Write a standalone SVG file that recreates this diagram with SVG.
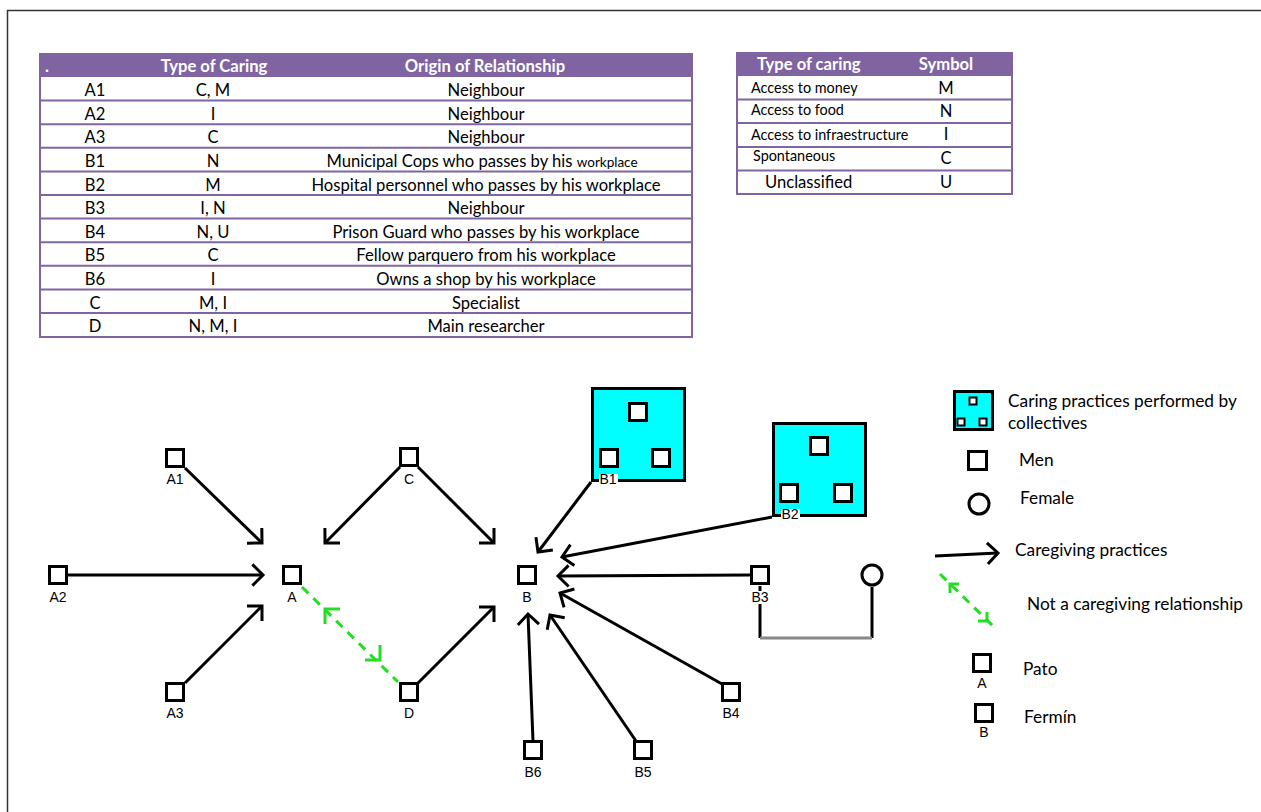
<svg xmlns="http://www.w3.org/2000/svg" width="1261" height="812" viewBox="0 0 1261 812">
<style>
.tb{font-family:Lato,"Open Sans",sans-serif;font-size:16.6px;fill:#000}
.th{font-family:Lato,"Open Sans",sans-serif;font-size:16.6px;font-weight:bold;fill:#fff}
.ts{font-family:Lato,"Open Sans",sans-serif;font-size:14.4px;fill:#000}
.c{text-anchor:middle}
.hd{fill:#8064a2}
.rl{stroke:#8064a2;stroke-width:2;fill:none}
.nd{fill:#fff;stroke:#000;stroke-width:3}
.cy{fill:#00ffff;stroke:#000;stroke-width:3}
.lb{font-family:"Liberation Sans",Arial,sans-serif;font-size:14px;fill:#000;text-anchor:middle}
.lg{font-family:Lato,"Open Sans",sans-serif;font-size:17.3px;fill:#000}
.ar{stroke:#000;stroke-width:3;fill:none;marker-end:url(#chev)}
.gd{stroke:#22dd22;stroke-width:3;fill:none;stroke-dasharray:9 7}
.gh{stroke:#22dd22;stroke-width:3;fill:none}
</style>
<defs>
<marker id="chev" markerUnits="userSpaceOnUse" viewBox="-14 -13 16 26" markerWidth="16" markerHeight="26" refX="0" refY="0" orient="auto" overflow="visible">
<path d="M-10.6,-10.6 L0,0 L-10.6,10.6" fill="none" stroke="#000" stroke-width="3"/>
</marker>
</defs>
<rect width="1261" height="812" fill="#fff"/>
<path d="M7.5,812 V10.5 H1261" fill="none" stroke="#333" stroke-width="1.5"/>

<g id="table1">
<rect x="40" y="53" width="652" height="24" class="hd"/>
<text x="45" y="72" class="th">.</text>
<text x="214" y="72" class="th c">Type of Caring</text>
<text x="485" y="72" class="th c">Origin of Relationship</text>
<path class="rl" d="M40,53 V337 H692 V53 M40,100.6 H692 M40,124.2 H692 M40,147.8 H692 M40,171.4 H692 M40,195 H692 M40,218.6 H692 M40,242.2 H692 M40,265.8 H692 M40,289.4 H692 M40,313 H692"/>
<g class="tb c">
<text x="95" y="96">A1</text><text x="213" y="96">C, M</text><text x="486" y="96">Neighbour</text>
<text x="95" y="120">A2</text><text x="213" y="120">I</text><text x="486" y="120">Neighbour</text>
<text x="95" y="143">A3</text><text x="213" y="143">C</text><text x="486" y="143">Neighbour</text>
<text x="95" y="167">B1</text><text x="213" y="167">N</text><text x="482" y="167">Municipal Cops who passes by his <tspan font-size="13.5">workplace</tspan></text>
<text x="95" y="191">B2</text><text x="213" y="191">M</text><text x="486" y="191">Hospital personnel who passes by his workplace</text>
<text x="95" y="214">B3</text><text x="213" y="214">I, N</text><text x="486" y="214">Neighbour</text>
<text x="95" y="238">B4</text><text x="213" y="238">N, U</text><text x="486" y="238">Prison Guard who passes by his workplace</text>
<text x="95" y="261">B5</text><text x="213" y="261">C</text><text x="486" y="261">Fellow parquero from his workplace</text>
<text x="95" y="285">B6</text><text x="213" y="285">I</text><text x="486" y="285">Owns a shop by his workplace</text>
<text x="95" y="309">C</text><text x="213" y="309">M, I</text><text x="486" y="309">Specialist</text>
<text x="95" y="332">D</text><text x="213" y="332">N, M, I</text><text x="486" y="332">Main researcher</text>
</g>
</g>

<g id="table2">
<rect x="737" y="52" width="275" height="24" class="hd"/>
<text x="757" y="70" class="th">Type of caring</text>
<text x="946" y="70" class="th c">Symbol</text>
<path class="rl" d="M737,52 V194 H1012 V52 M737,99.5 H1012 M737,123 H1012 M737,147 H1012 M737,170.5 H1012"/>
<text x="751" y="93" class="ts">Access to money</text>
<text x="751" y="115" class="ts">Access to food</text>
<text x="751" y="140" class="ts">Access to infraestructure</text>
<text x="753" y="161" class="ts">Spontaneous</text>
<text x="765" y="188" class="tb">Unclassified</text>
<g class="tb c">
<text x="946" y="94">M</text><text x="946" y="117">N</text><text x="946" y="140">I</text><text x="946" y="164">C</text><text x="946" y="188">U</text>
</g>
</g>

<g id="connectors">
<line class="ar" x1="185" y1="468" x2="262" y2="543"/>
<line class="ar" x1="68" y1="575" x2="263" y2="575"/>
<line class="ar" x1="185" y1="683" x2="262" y2="606"/>
<line class="ar" x1="400" y1="467" x2="325" y2="543"/>
<line class="ar" x1="418" y1="467" x2="494" y2="543"/>
<line class="ar" x1="418" y1="683" x2="494" y2="607"/>
<line class="ar" x1="591" y1="482" x2="538" y2="552"/>
<line class="ar" x1="772" y1="517" x2="562" y2="557"/>
<line class="ar" x1="750" y1="575" x2="558" y2="576"/>
<line class="ar" x1="722" y1="684" x2="560" y2="593"/>
<line class="ar" x1="636" y1="741" x2="550" y2="615"/>
<line class="ar" x1="533" y1="741" x2="528" y2="614"/>
<line class="gd" x1="302" y1="587" x2="398" y2="682"/>
<path class="gh" d="M340,609 H325 V624 M365,660 H380 V645"/>
<path d="M760,586 V591 M760,604 V638 M872,587 V638" stroke="#000" stroke-width="3" fill="none"/>
<path d="M760,638 H872" stroke="#888" stroke-width="3" fill="none"/>
</g>

<g id="node-A1"><rect x="166.5" y="449.5" width="17" height="17" class="nd"/><text x="175" y="484" class="lb">A1</text></g>
<g id="node-A2"><rect x="49.5" y="566.5" width="17" height="17" class="nd"/><text x="58" y="602" class="lb">A2</text></g>
<g id="node-A3"><rect x="166.5" y="683.5" width="17" height="17" class="nd"/><text x="175" y="718" class="lb">A3</text></g>
<g id="node-A"><rect x="283.5" y="566.5" width="17" height="17" class="nd"/><text x="292" y="602" class="lb">A</text></g>
<g id="node-C"><rect x="400.5" y="448.5" width="17" height="17" class="nd"/><text x="409" y="484" class="lb">C</text></g>
<g id="node-D"><rect x="400.5" y="683.5" width="17" height="17" class="nd"/><text x="409" y="718" class="lb">D</text></g>
<g id="node-B"><rect x="518.5" y="566.5" width="17" height="17" class="nd"/><text x="527" y="602" class="lb">B</text></g>
<g id="node-B3"><rect x="751.5" y="566.5" width="17" height="17" class="nd"/><text x="760" y="602" class="lb">B3</text></g>
<g id="node-B4"><rect x="722.5" y="683.5" width="17" height="17" class="nd"/><text x="731" y="718" class="lb">B4</text></g>
<g id="node-B5"><rect x="634.5" y="741.5" width="17" height="17" class="nd"/><text x="643" y="777" class="lb">B5</text></g>
<g id="node-B6"><rect x="524.5" y="741.5" width="17" height="17" class="nd"/><text x="533" y="777" class="lb">B6</text></g>
<g id="node-B1">
<rect x="592.5" y="388.5" width="92" height="92" class="cy"/>
<rect x="629.5" y="403.5" width="17" height="17" class="nd"/>
<rect x="600.5" y="449.5" width="17" height="17" class="nd"/>
<rect x="652.5" y="449.5" width="17" height="17" class="nd"/>
<rect x="599" y="474" width="19" height="12" fill="#fff"/>
<text x="608" y="484" class="lb">B1</text>
</g>
<g id="node-B2">
<rect x="773.5" y="423.5" width="92" height="92" class="cy"/>
<rect x="810.5" y="437.5" width="17" height="17" class="nd"/>
<rect x="780.5" y="484.5" width="17" height="17" class="nd"/>
<rect x="834.5" y="484.5" width="17" height="17" class="nd"/>
<rect x="781" y="509" width="19" height="12" fill="#fff"/>
<text x="790" y="519" class="lb">B2</text>
</g>
<g id="node-female"><circle cx="872" cy="575" r="10" class="nd"/></g>

<g id="legend">
<rect x="954.5" y="391.5" width="38" height="38" class="cy"/>
<rect x="969.5" y="397.5" width="7" height="7" fill="#fff" stroke="#000" stroke-width="2"/>
<rect x="957.5" y="418.5" width="7" height="7" fill="#fff" stroke="#000" stroke-width="2"/>
<rect x="979.5" y="418.5" width="7" height="7" fill="#fff" stroke="#000" stroke-width="2"/>
<text x="1008" y="407" class="lg">Caring practices performed by</text>
<text x="1008" y="429" class="lg">collectives</text>
<rect x="968.5" y="451.5" width="18" height="18" class="nd"/>
<text x="1019" y="466" class="lg">Men</text>
<circle cx="979" cy="504" r="10" class="nd"/>
<text x="1020" y="504" class="lg">Female</text>
<line class="ar" x1="935" y1="556" x2="998" y2="553"/>
<text x="1015" y="556" class="lg">Caregiving practices</text>
<line class="gd" x1="940" y1="574" x2="995" y2="628"/>
<path class="gh" d="M959,584 H950 V593 M978,621 H987 V612"/>
<text x="1027" y="610" class="lg">Not a caregiving relationship</text>
<rect x="973.5" y="654.5" width="17" height="17" class="nd"/>
<text x="982" y="688" class="lb">A</text>
<text x="1023" y="675" class="lg">Pato</text>
<rect x="975.5" y="704.5" width="17" height="17" class="nd"/>
<text x="984" y="737" class="lb">B</text>
<text x="1024" y="723" class="lg">Fermín</text>
</g>
</svg>
